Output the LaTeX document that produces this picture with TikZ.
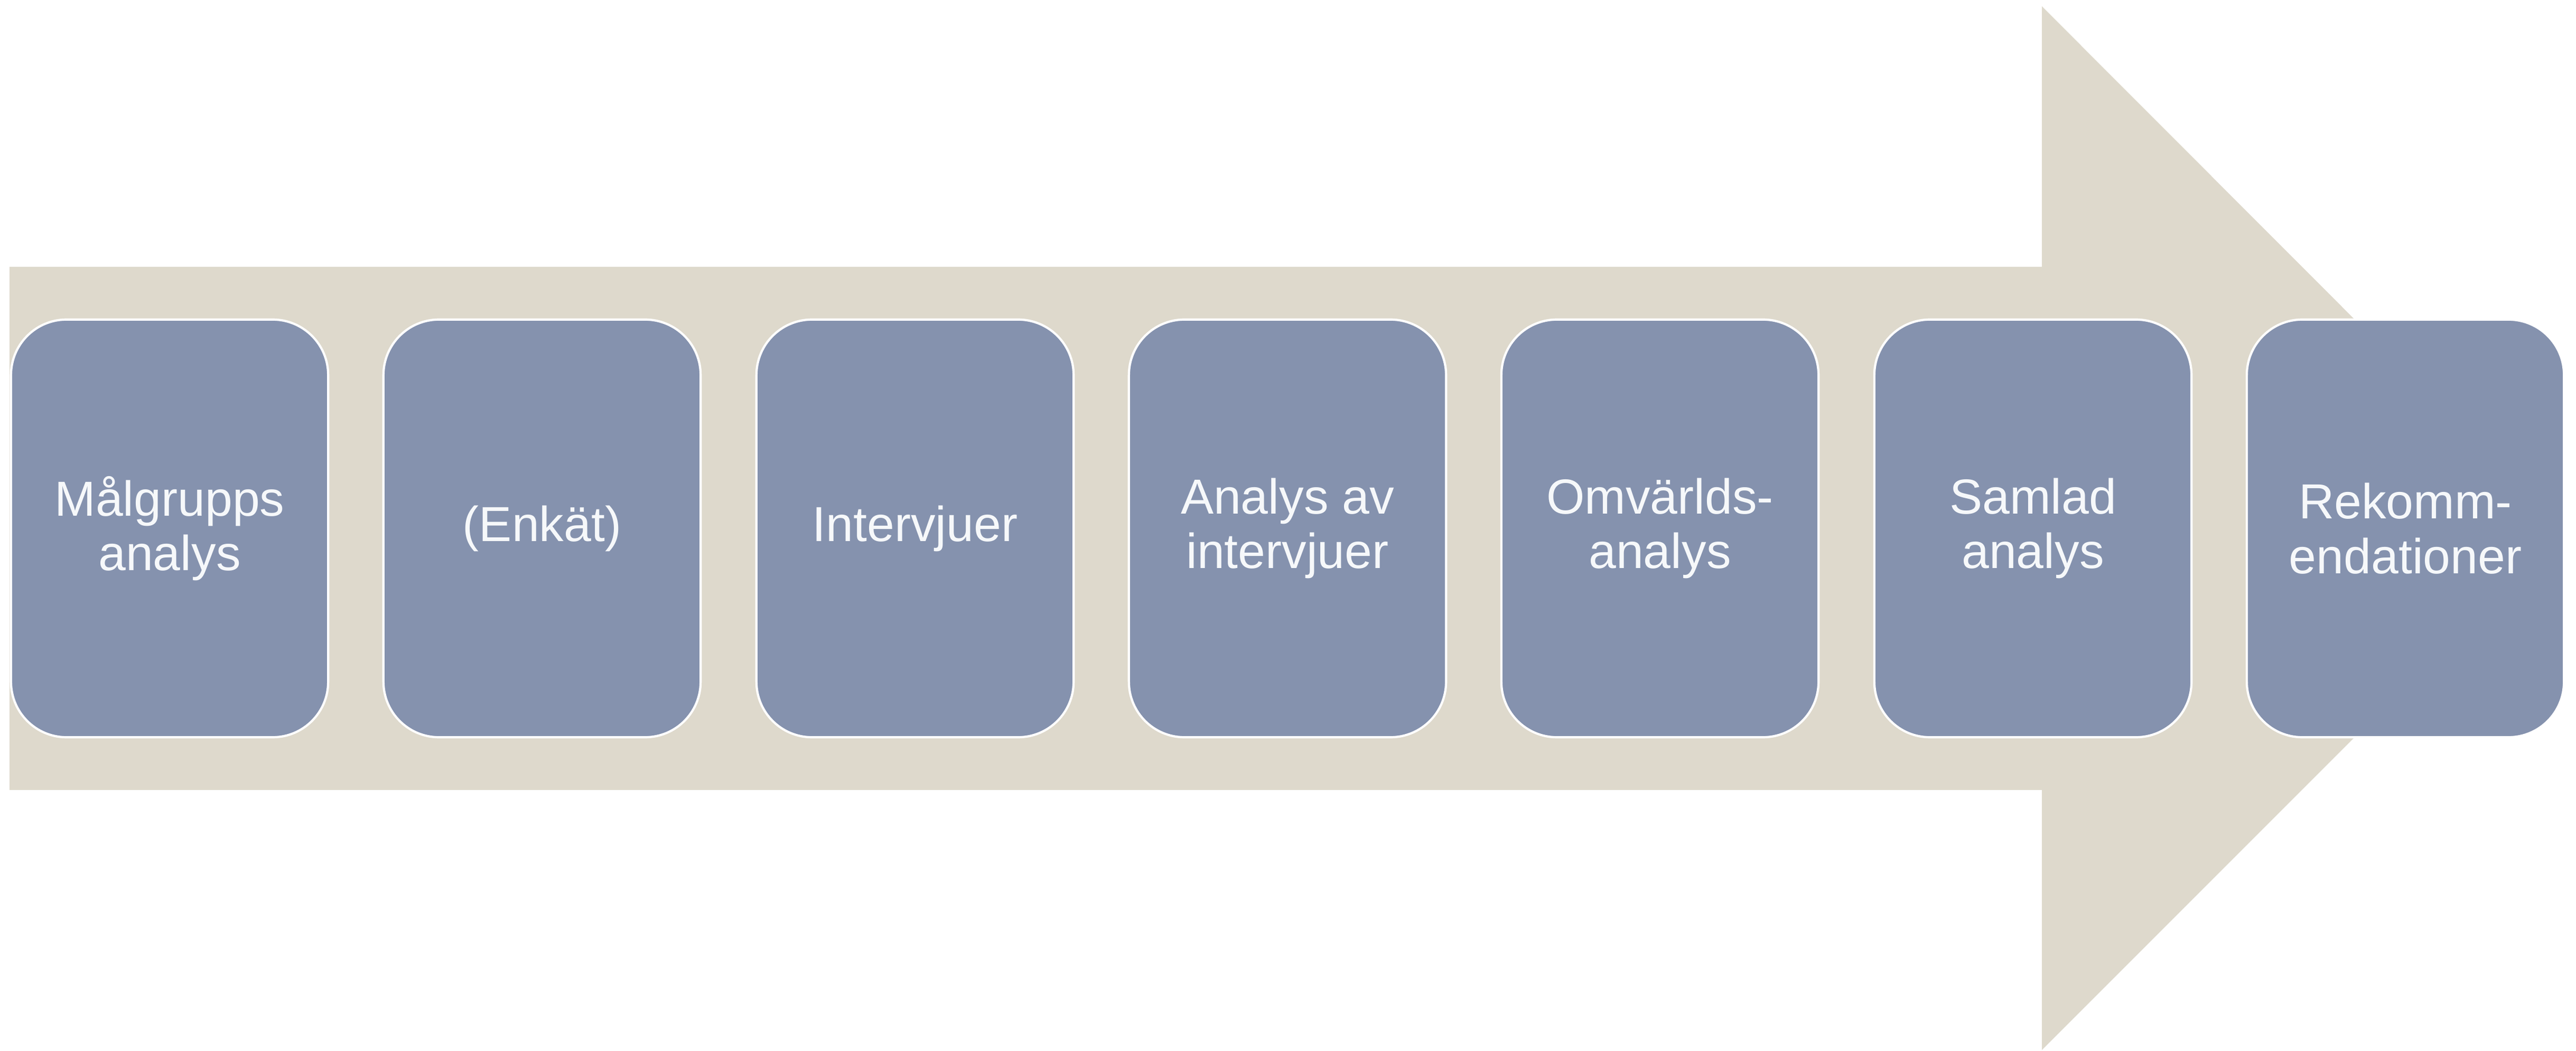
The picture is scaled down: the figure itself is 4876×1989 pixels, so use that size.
\documentclass[tikz,border=0pt]{standalone}
\usepackage{fontspec}
\setmainfont{Liberation Sans}
\definecolor{arrowbeige}{RGB}{222,217,204}
\definecolor{boxblue}{RGB}{133,146,174}
\definecolor{boxtext}{RGB}{246,248,250}
\begin{document}
\begin{tikzpicture}[x=0.01cm,y=-0.01cm,
  stagebox/.style={draw=white, line width=1.2pt, fill=boxblue, rounded corners=1.05cm,
    minimum width=6cm, minimum height=7.9cm, inner sep=0pt, align=center,
    text=boxtext, font=\fontsize{26.5pt}{29.5pt}\selectfont}]
  \useasboundingbox (0,0) rectangle (4876,1989);
  \fill[white] (0,0) rectangle (4876,1989);
  % big arrow
  \fill[arrowbeige] (18,505) -- (3865,505) -- (3865,12) -- (4852,1000)
    -- (3865,1987) -- (3865,1495) -- (18,1495) -- cycle;
  % stages
  \node[stagebox] (s1) at (321,1000) {Målgrupps\\analys};
  \node[stagebox] (s2) at (1026,1000) {(Enkät)};
  \node[stagebox] (s3) at (1732,1000) {Intervjuer};
  \node[stagebox] (s4) at (2437,1000) {Analys av\\intervjuer};
  \node[stagebox] (s5) at (3142,1000) {Omvärlds-\\analys};
  \node[stagebox] (s6) at (3848,1000) {Samlad\\analys};
  \node[stagebox] (s7) at (4553,1000) {Rekomm-\\endationer};
\end{tikzpicture}
\end{document}
